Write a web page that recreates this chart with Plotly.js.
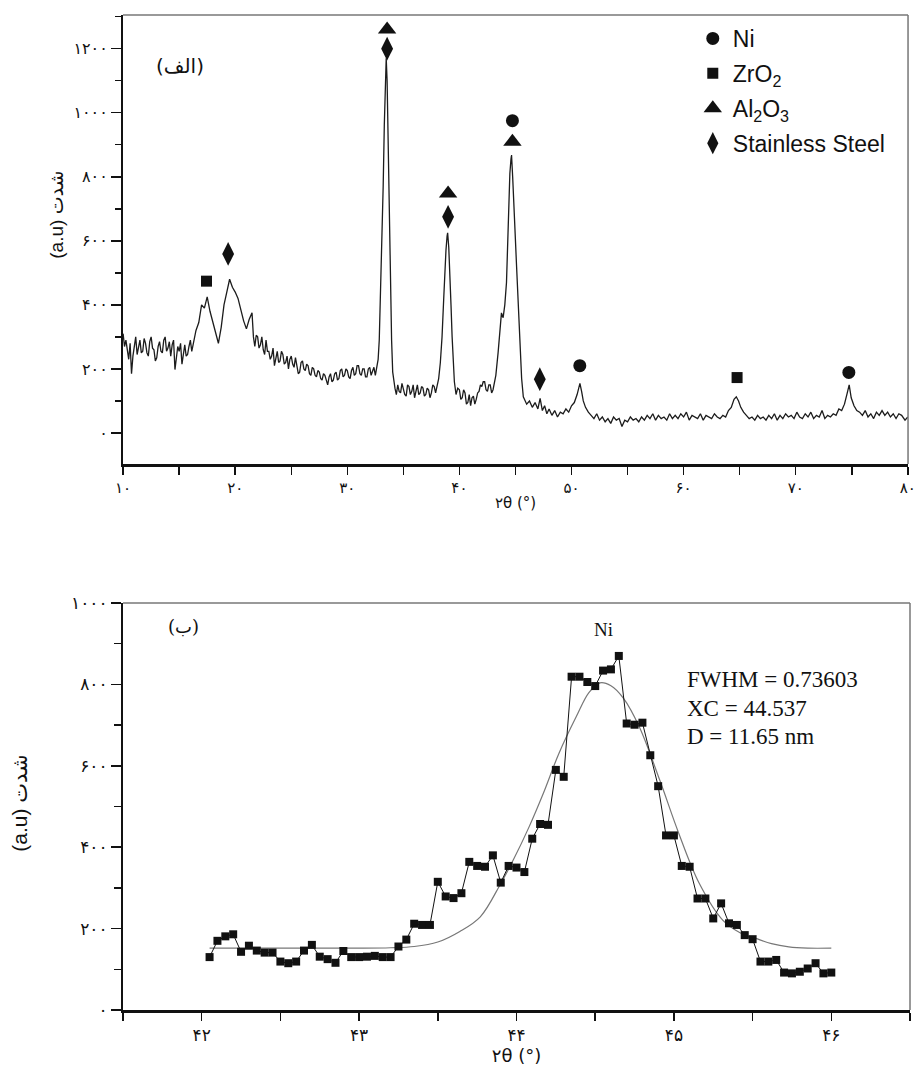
<!DOCTYPE html>
<html>
<head>
<meta charset="utf-8">
<script src="https://cdn.plot.ly/plotly-3.0.1.min.js"></script>
<style>html,body{margin:0;padding:0;background:#fff;}</style>
</head>
<body>
<div id="chart" style="width:915px;height:1073px;"></div>
<script>
// ---------- Panel (الف): full XRD pattern ----------
const specX = [10,10.125,10.25,10.375,10.5,10.625,10.75,10.875,11,11.125,11.25,11.375,11.5,11.625,11.75,11.875,12,12.125,12.25,12.375,
12.5,12.625,12.75,12.875,13,13.125,13.25,13.375,13.5,13.625,13.75,13.875,14,14.125,14.25,14.375,14.5,14.625,14.75,14.875,
15,15.125,15.25,15.375,15.5,15.625,15.75,15.875,16,16.125,16.25,16.375,
16.5,16.75,17,17.25,17.5,17.75,18,18.25,18.5,18.75,19,19.25,19.5,19.75,20,20.25,20.5,20.75,21,21.25,21.5,
21.625,21.75,21.875,22,22.125,22.25,22.375,22.5,22.625,22.75,22.875,23,23.125,23.25,23.375,23.5,23.625,23.75,23.875,
24,24.125,24.25,24.375,24.5,24.625,24.75,24.875,25,25.125,25.25,25.375,25.5,25.625,25.75,25.875,
26,26.125,26.25,26.375,26.5,26.625,26.75,26.875,27,27.125,27.25,27.375,27.5,27.625,27.75,27.875,
28,28.125,28.25,28.375,28.5,28.625,28.75,28.875,29,29.125,29.25,29.375,29.5,29.625,29.75,29.875,
30,30.125,30.25,30.375,30.5,30.625,30.75,30.875,31,31.125,31.25,31.375,31.5,31.625,31.75,31.875,
32,32.125,32.25,32.375,32.5,32.625,32.75,
32.85,33,33.1,33.2,33.3,33.4,33.47,33.55,33.65,33.75,33.85,33.95,34.05,34.15,34.25,
34.375,34.5,34.625,34.75,34.875,35,35.125,35.25,35.375,35.5,35.625,35.75,35.875,36,36.125,36.25,36.375,36.5,36.625,36.75,36.875,
37,37.125,37.25,37.375,37.5,37.625,37.75,37.875,38,
38.15,38.3,38.45,38.6,38.7,38.8,38.9,38.95,39.05,39.15,39.25,39.35,39.45,39.55,39.7,
39.85,40,40.125,40.25,40.375,40.5,40.625,40.75,40.875,41,41.125,41.25,41.375,41.5,41.625,41.75,41.875,42,42.125,42.25,42.375,42.5,42.625,42.75,42.875,
43,43.25,43.45,43.6,43.75,43.9,44.05,44.2,44.35,44.5,44.6,44.65,44.75,44.85,45,45.1,45.25,45.4,45.55,45.7,45.85,46,
46.25,46.5,46.75,47,47.2,47.4,47.6,47.8,48,48.25,48.5,48.75,49,49.25,49.5,49.75,50,50.25,50.5,50.75,50.9,51.05,51.25,51.5,51.75,
52,52.25,52.5,52.75,53,53.25,53.5,53.75,54,54.25,54.5,54.75,55,55.25,55.5,55.75,56,56.25,56.5,56.75,57,57.25,57.5,57.75,
58,58.25,58.5,58.75,59,59.25,59.5,59.75,60,60.25,60.5,60.75,61,61.25,61.5,61.75,62,62.25,62.5,62.75,63,63.25,63.5,63.75,
64,64.25,64.5,64.7,64.9,65.1,65.35,65.6,65.85,66.1,66.35,66.6,66.85,67.1,67.35,67.6,67.85,68.1,68.35,68.6,68.85,
69.1,69.35,69.6,69.85,70.1,70.35,70.6,70.85,71.1,71.35,71.6,71.85,72.1,72.35,72.6,72.85,73.1,73.35,73.6,73.85,
74.1,74.35,74.6,74.77,74.95,75.2,75.45,75.7,75.95,76.2,76.45,76.7,76.95,77.2,77.45,77.7,77.95,78.2,78.45,78.7,78.95,79.2,79.45,79.75,80];
const specY = [310,270,290,250,230,280,185,240,270,300,245,275,290,250,255,295,280,250,240,285,
300,265,260,225,235,270,285,255,250,290,300,255,265,285,240,275,290,198,235,270,
255,280,215,250,275,240,245,270,290,255,275,300,
320,345,400,390,425,380,345,310,280,330,400,440,480,455,440,420,380,350,325,355,375,
300,270,305,300,265,275,300,260,245,290,255,255,230,240,265,210,240,255,220,
225,255,245,215,220,240,200,230,240,215,205,235,215,185,190,220,
225,200,195,215,210,185,180,205,200,180,175,195,190,170,165,185,
180,160,150,175,185,160,165,185,190,165,170,195,200,175,180,200,
195,175,170,195,205,180,185,210,210,185,180,200,200,175,175,200,
205,180,190,205,180,200,230,
290,480,600,770,960,1120,1170,1100,900,650,430,290,190,160,140,
120,150,130,125,155,140,120,115,150,145,120,130,150,110,135,150,120,125,145,140,115,
120,140,135,110,125,150,145,125,150,
170,220,300,420,510,570,615,625,580,510,400,300,210,160,120,
140,135,105,110,135,125,90,95,120,85,110,115,90,105,125,130,150,145,160,160,135,130,150,150,125,
135,180,250,320,375,360,400,470,680,810,855,868,800,700,600,520,390,260,170,113,100,90,
100,80,95,75,108,70,85,60,75,55,70,50,65,60,75,65,85,95,120,155,130,100,80,65,55,
45,60,40,50,35,45,30,50,40,45,20,40,35,50,40,45,35,50,40,55,45,60,40,55,
45,50,40,60,45,55,45,60,50,65,40,55,50,45,60,40,55,50,45,60,50,45,55,50,
70,80,105,113,100,80,65,55,45,50,40,55,45,50,40,55,45,60,40,55,45,
60,50,55,45,65,50,45,60,50,65,45,55,50,70,45,55,50,60,55,75,
70,90,125,150,110,85,70,65,55,70,50,60,45,65,55,70,55,65,50,60,45,60,55,40,50];

// Phase identification marks
const niX = [44.73, 50.74, 74.74];          const niY = [975, 210, 189];
const zrX = [17.44, 64.77];                 const zrY = [474, 173];
const alX = [33.55, 38.99, 44.73];          const alY = [1260, 748, 909];
const ssX = [19.37, 33.55, 38.99, 47.17];   const ssY = [559, 1200, 675, 168];
const phaseNames = ['Ni', 'ZrO<sub>2</sub>', 'Al<sub>2</sub>O<sub>3</sub>', 'Stainless Steel'];

const topXTicks = [10,20,30,40,50,60,70,80];
const topXTickText = ['۱۰','۲۰','۳۰','۴۰','۵۰','۶۰','۷۰','۸۰'];
const topYTicks = [0,200,400,600,800,1000,1200];
const topYTickText = ['۰','۲۰۰','۴۰۰','۶۰۰','۸۰۰','۱۰۰۰','۱۲۰۰'];

// ---------- Panel (ب): Ni peak ----------
const niPeakX = [42.05,42.10,42.15,42.20,42.25,42.30,42.35,42.40,42.45,42.50,42.55,42.60,42.65,42.70,42.75,42.80,42.85,42.90,42.95,43.00,
43.05,43.10,43.15,43.20,43.25,43.30,43.35,43.40,43.45,43.50,43.55,43.60,43.65,43.70,43.75,43.80,43.85,43.90,43.95,44.00,
44.05,44.10,44.15,44.20,44.25,44.30,44.35,44.40,44.45,44.50,44.55,44.60,44.65,44.70,44.75,44.80,44.85,44.90,44.95,45.00,
45.05,45.10,45.15,45.20,45.25,45.30,45.35,45.40,45.45,45.50,45.55,45.60,45.65,45.70,45.75,45.80,45.85,45.90,45.95,46.00];
const niPeakY = [130,170,181,186,143,158,146,141,141,119,115,119,146,160,131,125,116,145,130,130,
131,133,130,130,156,173,212,209,209,315,279,275,287,364,354,352,380,313,354,350,
339,421,457,455,590,573,819,819,806,796,834,837,870,704,701,706,626,550,429,429,
354,352,274,274,225,262,213,209,184,174,119,119,123,92,90,94,102,115,90,92];
const fitX = [42.05,42.5,43.0,43.2,43.35,43.5,43.64,43.77,43.9,43.98,44.08,44.17,44.27,44.38,44.46,44.53,44.6,44.68,44.78,44.91,45.03,45.16,45.31,45.42,45.52,45.62,45.73,45.85,46.0];
const fitY = [152,152,152,153,156,167,193,229,311,369,450,532,631,721,780,804,797,766,696,565,435,312,221,190,176,163,155,152,152];

const botXTicks = [42,43,44,45,46];
const botXTickText = ['۴۲','۴۳','۴۴','۴۵','۴۶'];
const botYTicks = [0,200,400,600,800,1000];
const botYTickText = ['۰','۲۰۰','۴۰۰','۶۰۰','۸۰۰','۱۰۰۰'];

const yTitle = '(a.u) شدت';
const xTitle = '۲θ (°)';

const INK = '#111';

const traces = [
  {x: specX, y: specY, xaxis: 'x', yaxis: 'y', mode: 'lines', line: {color: '#1c1c1c', width: 1.3}, showlegend: false, hoverinfo: 'skip'},
  {x: niX, y: niY, xaxis: 'x', yaxis: 'y', mode: 'markers', name: phaseNames[0], legendgroup: 'a',
   marker: {symbol: 'circle', size: 13, color: INK}},
  {x: zrX, y: zrY, xaxis: 'x', yaxis: 'y', mode: 'markers', name: phaseNames[1], legendgroup: 'b',
   marker: {symbol: 'square', size: 11, color: INK}},
  {x: alX, y: alY, xaxis: 'x', yaxis: 'y', mode: 'markers', name: phaseNames[2], legendgroup: 'c',
   marker: {symbol: 'triangle-up', size: 16, color: INK}},
  {x: ssX, y: ssY, xaxis: 'x', yaxis: 'y', mode: 'markers', name: phaseNames[3], legendgroup: 'd',
   marker: {symbol: 'diamond-tall', size: 17, color: INK}},
  {x: fitX, y: fitY, xaxis: 'x2', yaxis: 'y2', mode: 'lines', line: {color: '#777', width: 1.2, shape: 'spline'}, showlegend: false},
  {x: niPeakX, y: niPeakY, xaxis: 'x2', yaxis: 'y2', mode: 'lines+markers', line: {color: INK, width: 1},
   marker: {symbol: 'square', size: 8, color: INK}, showlegend: false}
];

function axisBase(extra) {
  return Object.assign({
    showgrid: false, zeroline: false, showline: true, linecolor: INK, linewidth: 2.5,
    ticks: 'outside', tickcolor: INK, tickwidth: 1.5, tickmode: 'array'
  }, extra);
}

const layout = {
  width: 915, height: 1073,
  margin: {l: 123, r: 5, t: 15, b: 63},
  paper_bgcolor: '#fff', plot_bgcolor: '#fff',
  font: {family: 'Liberation Sans, DejaVu Sans', color: INK},
  showlegend: true,
  legend: {x: 0.724, y: 0.998, xanchor: 'left', yanchor: 'top', bgcolor: 'rgba(0,0,0,0)',
           font: {family: 'Liberation Sans, Arial', size: 23, color: INK}, tracegroupgap: 2, itemwidth: 30},
  xaxis: axisBase({domain: [0, 0.9975], anchor: 'y', range: [9.99, 80.02], tickvals: topXTicks, ticktext: topXTickText, ticklen: 8,
    ticklabeloverflow: 'allow',
    tickfont: {family: 'DejaVu Sans', size: 15, color: INK},
    minor: {tick0: 10, dtick: 5, ticks: 'outside', ticklen: 8, tickwidth: 1.5, tickcolor: INK, showgrid: false},
    title: {text: xTitle, font: {family: 'DejaVu Sans', size: 15}, standoff: 2}}),
  yaxis: axisBase({domain: [0.5487, 1], anchor: 'x', range: [-97, 1305], tickvals: topYTicks, ticktext: topYTickText, ticklen: 10, linewidth: 2,
    tickfont: {family: 'DejaVu Sans', size: 16, color: INK},
    minor: {tick0: 0, dtick: 100, ticks: 'outside', ticklen: 6, tickwidth: 1.5, tickcolor: INK, showgrid: false}}),
  xaxis2: axisBase({domain: [0, 1], anchor: 'y2', range: [41.5, 46.5], tickvals: botXTicks, ticktext: botXTickText, ticklen: 8,
    tickfont: {family: 'DejaVu Sans', size: 17, color: INK},
    minor: {tick0: 41.5, dtick: 0.5, ticks: 'outside', ticklen: 8, tickwidth: 1.5, tickcolor: INK, showgrid: false},
    title: {text: xTitle, font: {family: 'DejaVu Sans', size: 18}, standoff: 6}}),
  yaxis2: axisBase({domain: [0, 0.409], anchor: 'x2', range: [0, 1000], tickvals: botYTicks, ticktext: botYTickText, ticklen: 10, linewidth: 2,
    tickfont: {family: 'DejaVu Sans', size: 17, color: INK},
    minor: {tick0: 0, dtick: 100, ticks: 'outside', ticklen: 7, tickwidth: 1.5, tickcolor: INK, showgrid: false}}),
  shapes: [
    {type: 'line', xref: 'x domain', yref: 'y domain', x0: 0, x1: 1, y0: 1, y1: 1, line: {color: '#777', width: 1.5}},
    {type: 'line', xref: 'x domain', yref: 'y domain', x0: 1, x1: 1, y0: 0, y1: 1, line: {color: '#777', width: 1.5}},
    {type: 'line', xref: 'x2 domain', yref: 'y2 domain', x0: 0, x1: 1, y0: 1, y1: 1, line: {color: '#777', width: 1.5}},
    {type: 'line', xref: 'x2 domain', yref: 'y2 domain', x0: 1, x1: 1, y0: 0, y1: 1, line: {color: '#777', width: 1.5}}
  ],
  annotations: [
    // y-axis titles (rotated)
    {xref: 'paper', yref: 'paper', x: -0.1004, y: 0.846, text: yTitle, textangle: -90, showarrow: false,
     font: {family: 'Liberation Sans, DejaVu Sans', size: 19, color: INK}},
    {xref: 'paper', yref: 'paper', x: -0.1487, y: 0.157, text: yTitle, textangle: -90, showarrow: false,
     font: {family: 'Liberation Sans, DejaVu Sans', size: 21, color: INK}},
    {xref: 'x domain', yref: 'y domain', x: 0.04, y: 0.918, text: '(الف)', showarrow: false,
     font: {family: 'DejaVu Sans', size: 20, color: INK}},
    {xref: 'x2 domain', yref: 'y2 domain', x: 0.055, y: 0.973, text: '(ب)', showarrow: false,
     font: {family: 'DejaVu Serif, DejaVu Sans', size: 18, color: INK}},
    {xref: 'x2', yref: 'y2', x: 44.55, y: 934, text: 'Ni', showarrow: false,
     font: {family: 'Liberation Serif', size: 19, color: INK}},
    {xref: 'x2', yref: 'y2', x: 45.07, y: 811, xanchor: 'left', text: 'FWHM = 0.73603', showarrow: false,
     font: {family: 'Liberation Serif', size: 23, color: INK}},
    {xref: 'x2', yref: 'y2', x: 45.07, y: 742, xanchor: 'left', text: 'XC = 44.537', showarrow: false,
     font: {family: 'Liberation Serif', size: 23, color: INK}},
    {xref: 'x2', yref: 'y2', x: 45.07, y: 673, xanchor: 'left', text: 'D = 11.65 nm', showarrow: false,
     font: {family: 'Liberation Serif', size: 23, color: INK}}
  ]
};

Plotly.newPlot('chart', traces, layout, {displayModeBar: false, staticPlot: true});
</script>
</body>
</html>
